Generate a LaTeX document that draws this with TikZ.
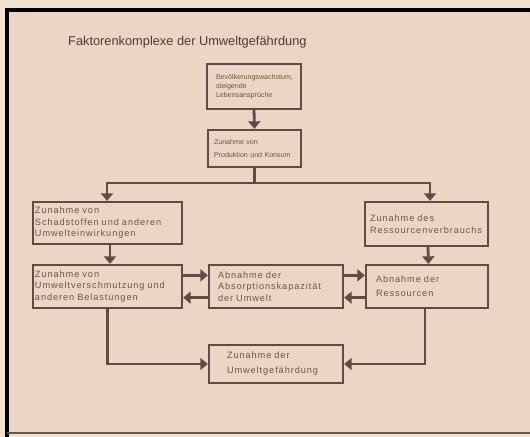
\documentclass[tikz,border=0pt]{standalone}
\usepackage{fontspec}
\setmainfont{Liberation Sans}
\newfontfamily\bxfont[LetterSpace=10]{Liberation Sans}
\usetikzlibrary{arrows.meta,calc}
\definecolor{paper}{RGB}{236,213,196}
\definecolor{outer}{RGB}{242,224,208}
\definecolor{ink}{RGB}{94,76,70}
\definecolor{txt}{RGB}{112,84,72}
\definecolor{ttl}{RGB}{72,62,58}
\tikzset{
  bx/.style={draw=ink, line width=1.3bp, rectangle, align=left, inner ysep=0pt,
    font=\bxfont\fontsize{9.2bp}{11.5bp}\selectfont, text=txt,
    execute at begin node={\hyphenpenalty=10000\exhyphenpenalty=10000}},
  small/.style={font=\fontsize{7.1bp}{9bp}\selectfont},
  flow/.style={draw=ink, line width=2.8bp, -{Triangle[width=12bp,length=7.5bp]}, shorten >=0.5bp},
  link/.style={draw=ink, line width=2.8bp}
}
\begin{document}
\begin{tikzpicture}[x=1bp,y=-1bp]
\fill[outer] (0,0) rectangle (530,437);
\useasboundingbox (0,0) rectangle (530,437);
\fill[paper] (7,10) rectangle (530,433);
\draw[black, line width=3.2bp] (7,437) -- (7,10) -- (530,10);
\draw[ink!80!gray, line width=1.5bp] (7,433) -- (530,433);

\node[anchor=west, font=\fontsize{12.8bp}{14bp}\selectfont, text=ttl, inner sep=0pt] (title) at (68,42) {Faktorenkomplexe der Umweltgefährdung};

\node[bx, small, text width=76bp, inner xsep=9bp, minimum height=45bp] (b1) at (254,86.5) {Bevölkerungswachstum,\\steigende\\Lebensansprüche};
\node[bx, font=\fontsize{7.1bp}{13.5bp}\selectfont, text width=81bp, inner xsep=6bp, minimum height=37bp] (b2) at (254.5,148.5) {Zunahme von\\Produktion und Konsum};
\node[bx, text width=145bp, inner xsep=2bp, minimum height=42bp] (b3) at (107.5,223) {Zunahme von\\Schadstoffen und anderen\\Umwelteinwirkungen};
\node[bx, text width=113bp, inner xsep=5bp, minimum height=44bp] (b4) at (426.5,224) {Zunahme des\\Ressourcenverbrauchs};
\node[bx, text width=145bp, inner xsep=2bp, minimum height=43bp] (b5) at (107.5,286.5) {Zunahme von\\Umweltverschmutzung und\\anderen Belastungen};
\node[bx, text width=116bp, inner xsep=9bp, minimum height=43bp] (b6) at (276,286.5) {Abnahme der\\Absorptionskapazität\\der Umwelt};
\node[bx, font=\bxfont\fontsize{9.2bp}{14bp}\selectfont, text width=102bp, inner xsep=10bp, minimum height=43bp] (b7) at (427,286.5) {Abnahme der\\Ressourcen};
\node[bx, font=\bxfont\fontsize{9.2bp}{15bp}\selectfont, text width=98bp, inner xsep=18bp, minimum height=38bp] (b8) at (276,364) {Zunahme der\\Umweltgefährdung};

\coordinate (split) at ($(b2.south)+(0,16)$);
\coordinate (splitL) at (107,183);
\coordinate (splitR) at (430,183);

\draw[flow] (b1.south) -- (b2.north);
\draw[link] (b2.south) -- (split);
\draw[link, line cap=rect] (splitL) -- (splitR);
\draw[flow] (splitL) -- (splitL |- b3.north);
\draw[flow] (splitR) -- (splitR |- b4.north);
\draw[flow] ([xshift=2.5bp]b3.south) -- ([xshift=2.5bp]b5.north);
\draw[flow] ([xshift=1.5bp]b4.south) -- ([xshift=1.5bp]b7.north);
\draw[flow] ([yshift=-11bp]b5.north east) -- ([yshift=-11bp]b6.north west);
\draw[flow] ([yshift=11bp]b6.south west) -- ([yshift=11bp]b5.south east);
\draw[flow] ([yshift=-11bp]b6.north east) -- ([yshift=-11bp]b7.north west);
\draw[flow] ([yshift=11bp]b7.south west) -- ([yshift=11bp]b6.south east);
\draw[flow, line join=miter] (b5.south) |- (b8.west);
\draw[flow, line join=miter] ([xshift=-2bp]b7.south) |- (b8.east);
\end{tikzpicture}
\end{document}
